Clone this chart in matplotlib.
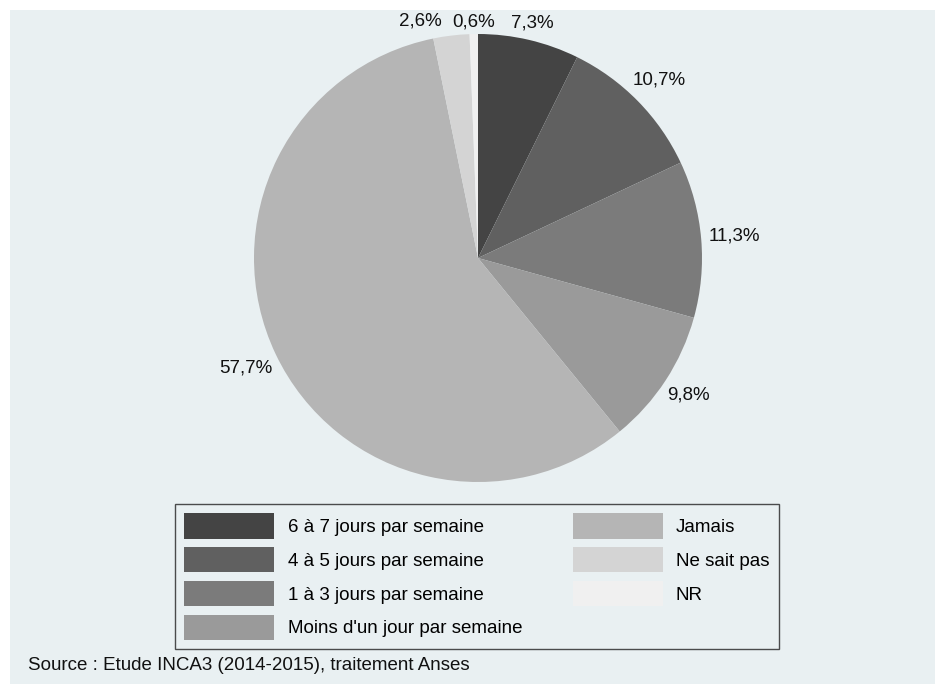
import numpy as np
import matplotlib.pyplot as plt
from matplotlib.patches import Rectangle

plt.rcParams['font.family'] = ['Liberation Sans', 'DejaVu Sans']

categories = ['6 à 7 jours par semaine', '4 à 5 jours par semaine',
              '1 à 3 jours par semaine', 'Moins d\'un jour par semaine',
              'Jamais', 'Ne sait pas', 'NR']
values = [7.3, 10.7, 11.3, 9.8, 57.7, 2.6, 0.6]
labels = ['7,3%', '10,7%', '11,3%', '9,8%', '57,7%', '2,6%', '0,6%']
colors = ['#444444', '#606060', '#7b7b7b', '#9a9a9a', '#b5b5b5', '#d4d4d4', '#f0f0f0']
bg = '#e9f0f2'
fs = 13.5

W, H = 935, 684
fig = plt.figure(figsize=(W / 100, H / 100), dpi=100)
fig.patch.set_facecolor('white')
fig.patches.append(Rectangle((10 / W, 0), 1 - 10 / W, 1 - 10 / H,
                             transform=fig.transFigure, facecolor=bg,
                             edgecolor='none', zorder=-10))

# pie centre (478, 258) px, radius 224 px
cx, cy, r = 478, 258, 224
ax = fig.add_axes([(cx - r) / W, (H - cy - r) / H, 2 * r / W, 2 * r / H])
wedges, texts = ax.pie(values, labels=labels, colors=colors, startangle=90,
                       counterclock=False, labeldistance=1.1,
                       wedgeprops=dict(linewidth=0),
                       textprops=dict(fontsize=fs, color='#111111'))
ax.set_xlim(-1, 1)
ax.set_ylim(-1, 1)
ax.set_aspect('equal')
ax.axis('off')

# place labels a fixed gap outside the rim (stata style)
renderer = fig.canvas.get_renderer()
gap = 7
for w, t in zip(wedges, texts):
    t.set_ha('center')
    t.set_va('center')
    bb = t.get_window_extent(renderer)
    th = np.deg2rad((w.theta1 + w.theta2) / 2)
    d = r + gap + abs(np.cos(th)) * bb.width / 2 + abs(np.sin(th)) * bb.height * 0.3
    t.set_position((d / r * np.cos(th), d / r * np.sin(th)))

# push the small top labels apart
for a, b in [(texts[5], texts[6])]:
    ba = a.get_window_extent(renderer)
    bb = b.get_window_extent(renderer)
    overlap = ba.x1 - bb.x0 + 10
    if overlap > 0:
        x, y = a.get_position()
        a.set_position((x - overlap / r, y))

leg = fig.legend(wedges, categories, ncol=2, loc='upper left',
                 bbox_to_anchor=(175 / W, 1 - 504 / H), fontsize=fs,
                 handlelength=4.8, handleheight=1.7, handletextpad=0.7,
                 labelspacing=0.45, columnspacing=2.7, borderpad=0.5,
                 borderaxespad=0, fancybox=False, frameon=True)
leg.get_frame().set_facecolor(bg)
leg.get_frame().set_edgecolor('#222222')
leg.get_frame().set_linewidth(1.0)

fig.text(28 / W, 1 - 665 / H, 'Source : Etude INCA3 (2014-2015), traitement Anses',
         fontsize=fs, color='#111111', va='center', ha='left')

fig.savefig('out.png', dpi=100, facecolor=fig.get_facecolor())
